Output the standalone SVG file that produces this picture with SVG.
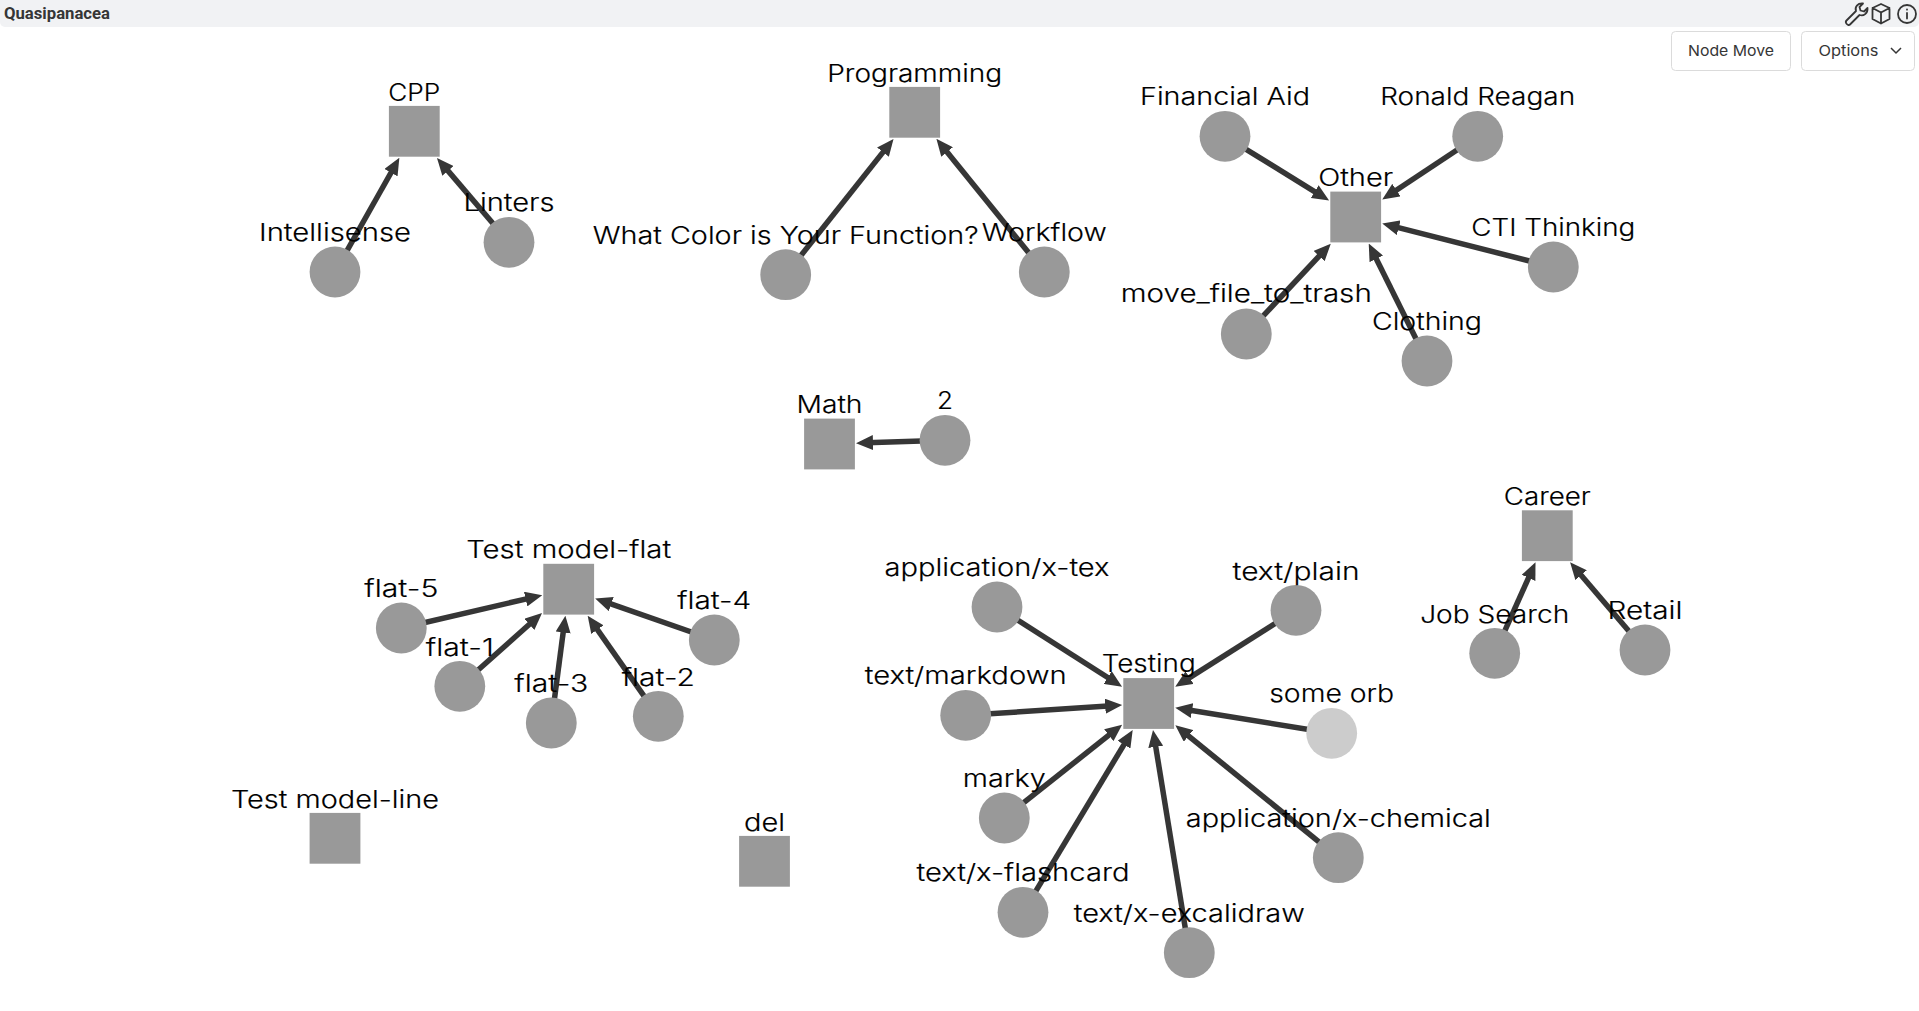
<svg xmlns="http://www.w3.org/2000/svg" width="1919" height="1011" viewBox="0 0 1919 1011">
<style>
.n{fill:#999}
.o{fill:#ccc}
text.l{font-family:"Inter","Open Sans",sans-serif;font-size:24px;font-weight:300;fill:#000;stroke:#000;stroke-width:.15;text-anchor:middle;transform:translateY(.6px)}
#edges line{stroke:#363636;stroke-width:5.500;marker-end:url(#a)}
.b{fill:#fff;stroke:#dbdbdb;stroke-width:1}
.bt{font-family:"Inter","Open Sans",sans-serif;font-size:15px;fill:#363636;text-anchor:middle}
.i{fill:none;stroke:#363636;stroke-width:1.800;stroke-linecap:round;stroke-linejoin:round}
</style>
<defs><marker id="a" markerUnits="userSpaceOnUse" markerWidth="17" markerHeight="15" viewBox="0 0 17 15" refX="6.500" refY="7.500" orient="auto"><path d="M0 0L17 7.500L0 15z" fill="#363636"/></marker></defs>
<rect width="1919" height="1011" fill="#fff"/>
<g id="topbar">
<rect x="0" y="-6" width="1919" height="33" rx="5" fill="#f1f2f4"/>
<text x="4" y="18.500" font-family="Roboto,'Liberation Sans',sans-serif" font-weight="700" font-size="16" fill="#363636" textLength="106" lengthAdjust="spacingAndGlyphs">Quasipanacea</text>
<g class="i">
<path d="M1846.500 20.500l9.500-9.500c-1.500-4 1.500-8 7-7.500l-3.500 3.500 1 3.500 3.500 1 3.500-3.500c.500 5.500-4 8.500-8 7l-9.500 9.500c-2 2-5.500-2-3.500-4z"/>
<path d="M1881 4l8.500 4v11l-8.500 4.500-8.500-4.500v-11zM1872.500 8l8.500 4.500 8.500-4.500M1881 12.500v11"/>
<circle cx="1907" cy="14" r="9"/><path d="M1907 13v5.500M1907 9.500v.2"/>
</g>
</g>
<g id="edges">
<line x1="335" y1="272" x2="394.200" y2="167"/>
<line x1="509" y1="242.300" x2="443.800" y2="165.900"/>
<line x1="785.700" y1="274.700" x2="887" y2="147.100"/>
<line x1="1044.300" y1="272" x2="943" y2="147"/>
<line x1="1225" y1="136.300" x2="1320.200" y2="195.100"/>
<line x1="1477.700" y1="136.300" x2="1391" y2="193.700"/>
<line x1="1553.300" y1="267" x2="1392.400" y2="226.200"/>
<line x1="1427" y1="361" x2="1373.400" y2="253"/>
<line x1="1246.300" y1="334" x2="1323.600" y2="251.300"/>
<line x1="945" y1="440.300" x2="866.500" y2="442.800"/>
<line x1="401.300" y1="628" x2="532" y2="597.600"/>
<line x1="459.800" y1="686.300" x2="534.200" y2="620"/>
<line x1="551.300" y1="723" x2="564" y2="626.100"/>
<line x1="658.300" y1="716.300" x2="593.700" y2="624.300"/>
<line x1="714.300" y1="640" x2="605.100" y2="601.900"/>
<line x1="1494.700" y1="653.300" x2="1531.200" y2="571.900"/>
<line x1="1645" y1="650" x2="1576.900" y2="570.300"/>
<line x1="997" y1="607" x2="1113.200" y2="681"/>
<line x1="1296" y1="610.300" x2="1184.100" y2="681.100"/>
<line x1="965.700" y1="715.300" x2="1111.700" y2="705.800"/>
<line x1="1331.700" y1="733.300" x2="1185.600" y2="709.500"/>
<line x1="1004.300" y1="818" x2="1113.900" y2="731.200"/>
<line x1="1023" y1="912.300" x2="1127.300" y2="739.100"/>
<line x1="1189.300" y1="952.700" x2="1154.700" y2="740.400"/>
<line x1="1338.300" y1="857.700" x2="1183.500" y2="731.800"/>
</g>
<g id="cpp"><rect class="n" x="388.900" y="105.900" width="50.800" height="50.800"/><text class="l" x="414.300" y="100" textLength="52" lengthAdjust="spacingAndGlyphs">CPP</text></g>
<g id="intellisense"><circle class="n" cx="335" cy="272" r="25.400"/><text class="l" x="335" y="240.500" textLength="152" lengthAdjust="spacingAndGlyphs">Intellisense</text></g>
<g id="linters"><circle class="n" cx="509" cy="242.300" r="25.400"/><text class="l" x="509" y="210.700" textLength="91" lengthAdjust="spacingAndGlyphs">Linters</text></g>
<g id="programming"><rect class="n" x="889.300" y="86.900" width="50.800" height="50.800"/><text class="l" x="914.700" y="81" textLength="175" lengthAdjust="spacingAndGlyphs">Programming</text></g>
<g id="what-color"><circle class="n" cx="785.700" cy="274.700" r="25.400"/><text class="l" x="785.700" y="243" textLength="386" lengthAdjust="spacingAndGlyphs">What Color is Your Function?</text></g>
<g id="workflow"><circle class="n" cx="1044.300" cy="272" r="25.400"/><text class="l" x="1044.300" y="240.500" textLength="125" lengthAdjust="spacingAndGlyphs">Workflow</text></g>
<g id="other"><rect class="n" x="1330.300" y="191.600" width="50.800" height="50.800"/><text class="l" x="1355.700" y="185" textLength="75" lengthAdjust="spacingAndGlyphs">Other</text></g>
<g id="financial-aid"><circle class="n" cx="1225" cy="136.300" r="25.400"/><text class="l" x="1225" y="104.300" textLength="170" lengthAdjust="spacingAndGlyphs">Financial Aid</text></g>
<g id="ronald-reagan"><circle class="n" cx="1477.700" cy="136.300" r="25.400"/><text class="l" x="1477.700" y="104.300" textLength="195" lengthAdjust="spacingAndGlyphs">Ronald Reagan</text></g>
<g id="cti-thinking"><circle class="n" cx="1553.300" cy="267" r="25.400"/><text class="l" x="1553.300" y="235" textLength="164" lengthAdjust="spacingAndGlyphs">CTI Thinking</text></g>
<g id="clothing"><circle class="n" cx="1427" cy="361" r="25.400"/><text class="l" x="1427" y="329.300" textLength="110" lengthAdjust="spacingAndGlyphs">Clothing</text></g>
<g id="move-file"><circle class="n" cx="1246.300" cy="334" r="25.400"/><text class="l" x="1246.300" y="301.700" textLength="251" lengthAdjust="spacingAndGlyphs">move_file_to_trash</text></g>
<g id="math"><rect class="n" x="804.100" y="418.600" width="50.800" height="50.800"/><text class="l" x="829.500" y="412.300" textLength="66" lengthAdjust="spacingAndGlyphs">Math</text></g>
<g id="two"><circle class="n" cx="945" cy="440.300" r="25.400"/><text class="l" x="945" y="408.300" textLength="16" lengthAdjust="spacingAndGlyphs">2</text></g>
<g id="test-model-flat"><rect class="n" x="543.300" y="563.800" width="50.800" height="50.800"/><text class="l" x="568.700" y="557.300" textLength="205" lengthAdjust="spacingAndGlyphs">Test model-flat</text></g>
<g id="flat-5"><circle class="n" cx="401.300" cy="628" r="25.400"/><text class="l" x="401.300" y="596.700" textLength="74" lengthAdjust="spacingAndGlyphs">flat-5</text></g>
<g id="flat-1"><circle class="n" cx="459.800" cy="686.300" r="25.400"/><text class="l" x="459.800" y="655" textLength="68" lengthAdjust="spacingAndGlyphs">flat-1</text></g>
<g id="flat-3"><circle class="n" cx="551.300" cy="723" r="25.400"/><text class="l" x="551.300" y="691.700" textLength="74" lengthAdjust="spacingAndGlyphs">flat-3</text></g>
<g id="flat-2"><circle class="n" cx="658.300" cy="716.300" r="25.400"/><text class="l" x="658.300" y="685" textLength="73" lengthAdjust="spacingAndGlyphs">flat-2</text></g>
<g id="flat-4"><circle class="n" cx="714.300" cy="640" r="25.400"/><text class="l" x="714.300" y="608.700" textLength="74" lengthAdjust="spacingAndGlyphs">flat-4</text></g>
<g id="test-model-line"><rect class="n" x="309.600" y="812.900" width="50.800" height="50.800"/><text class="l" x="335" y="807" textLength="208" lengthAdjust="spacingAndGlyphs">Test model-line</text></g>
<g id="del"><rect class="n" x="739.100" y="835.900" width="50.800" height="50.800"/><text class="l" x="764.500" y="830" textLength="41" lengthAdjust="spacingAndGlyphs">del</text></g>
<g id="career"><rect class="n" x="1521.900" y="510.300" width="50.800" height="50.800"/><text class="l" x="1547.300" y="504" textLength="87" lengthAdjust="spacingAndGlyphs">Career</text></g>
<g id="job-search"><circle class="n" cx="1494.700" cy="653.300" r="25.400"/><text class="l" x="1494.700" y="622" textLength="149" lengthAdjust="spacingAndGlyphs">Job Search</text></g>
<g id="retail"><circle class="n" cx="1645" cy="650" r="25.400"/><text class="l" x="1645" y="618.500" textLength="75" lengthAdjust="spacingAndGlyphs">Retail</text></g>
<g id="testing"><rect class="n" x="1123.300" y="678.100" width="50.800" height="50.800"/><text class="l" x="1148.700" y="671.700" textLength="94" lengthAdjust="spacingAndGlyphs">Testing</text></g>
<g id="x-tex"><circle class="n" cx="997" cy="607" r="25.400"/><text class="l" x="997" y="575" textLength="225" lengthAdjust="spacingAndGlyphs">application/x-tex</text></g>
<g id="text-plain"><circle class="n" cx="1296" cy="610.300" r="25.400"/><text class="l" x="1296" y="579" textLength="127" lengthAdjust="spacingAndGlyphs">text/plain</text></g>
<g id="markdown"><circle class="n" cx="965.700" cy="715.300" r="25.400"/><text class="l" x="965.700" y="683.300" textLength="202" lengthAdjust="spacingAndGlyphs">text/markdown</text></g>
<g id="some-orb"><circle class="o" cx="1331.700" cy="733.300" r="25.400"/><text class="l" x="1331.700" y="701.700" textLength="125" lengthAdjust="spacingAndGlyphs">some orb</text></g>
<g id="marky"><circle class="n" cx="1004.300" cy="818" r="25.400"/><text class="l" x="1004.300" y="786.700" textLength="83" lengthAdjust="spacingAndGlyphs">marky</text></g>
<g id="flashcard"><circle class="n" cx="1023" cy="912.300" r="25.400"/><text class="l" x="1023" y="880.300" textLength="213" lengthAdjust="spacingAndGlyphs">text/x-flashcard</text></g>
<g id="excalidraw"><circle class="n" cx="1189.300" cy="952.700" r="25.400"/><text class="l" x="1189.300" y="921" textLength="231" lengthAdjust="spacingAndGlyphs">text/x-excalidraw</text></g>
<g id="chemical"><circle class="n" cx="1338.300" cy="857.700" r="25.400"/><text class="l" x="1338.300" y="826" textLength="305" lengthAdjust="spacingAndGlyphs">application/x-chemical</text></g>
<g id="node-move"><rect class="b" x="1671.500" y="31.500" width="119" height="39" rx="4"/><text class="bt" x="1731" y="56" textLength="86" lengthAdjust="spacingAndGlyphs">Node Move</text></g>
<g id="options"><rect class="b" x="1801.500" y="31.500" width="113" height="39" rx="4"/><text class="bt" x="1848.500" y="56" textLength="60" lengthAdjust="spacingAndGlyphs">Options</text><path d="M1891 48l5 5 5-5" fill="none" stroke="#363636" stroke-width="1.500"/></g>
</svg>
